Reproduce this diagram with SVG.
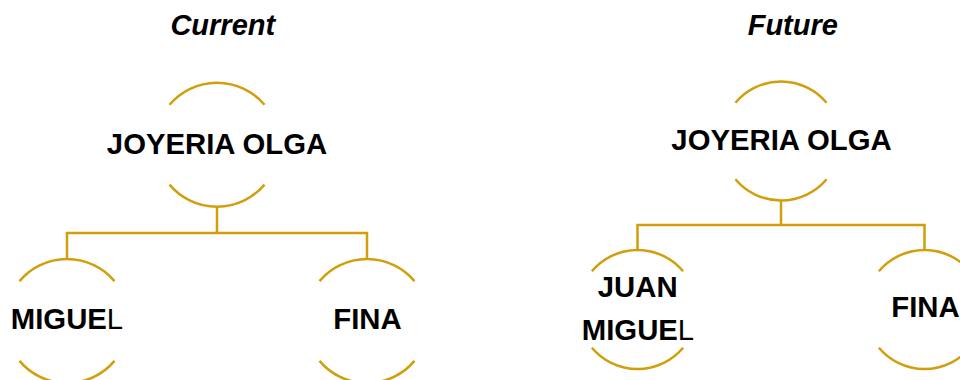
<svg xmlns="http://www.w3.org/2000/svg" width="960" height="380" viewBox="0 0 960 380">
  <style>
    .arc { fill: none; stroke: #D09F0B; stroke-width: 2.5; }
    .conn { fill: none; stroke: #D09F0B; stroke-width: 2.5; }
    .lbl { font-family: "Liberation Sans", Arial, sans-serif; font-size: 29.3px; font-weight: bold; fill: #000; text-anchor: middle; }
    .title { font-family: "Liberation Sans", Arial, sans-serif; font-size: 29px; font-weight: bold; font-style: italic; fill: #000; text-anchor: middle; }
    .reg { font-weight: normal; }
  </style>
  <rect width="960" height="380" fill="#fff"/>

  <text class="title" x="222.8" y="35.3">Current</text>
  <text class="title" x="792.8" y="35.3">Future</text>

  <g id="connectors">
    <path class="conn" d="M217,206.7 V233 M67,259 V233 H367 V259"/>
    <path class="conn" d="M781,200.5 V225 M637.5,250 V225 H924.5 V250"/>
  </g>

  <g id="current-joyeria">
    <path class="arc" d="M169.5,104.8 A62,62 0 0 1 264.5,104.8"/>
    <path class="arc" d="M169.5,184.6 A62,62 0 0 0 264.5,184.6"/>
    <text class="lbl" x="217" y="154">JOYERIA OLGA</text>
  </g>
  <g id="current-miguel">
    <path class="arc" d="M19.5,281.1 A62,62 0 0 1 114.5,281.1"/>
    <path class="arc" d="M19.5,360.9 A62,62 0 0 0 114.5,360.9"/>
    <text class="lbl" x="67" y="329.3">MIGUE<tspan class="reg">L</tspan></text>
  </g>
  <g id="current-fina">
    <path class="arc" d="M319.5,281.1 A62,62 0 0 1 414.5,281.1"/>
    <path class="arc" d="M319.5,360.9 A62,62 0 0 0 414.5,360.9"/>
    <text class="lbl" x="367.5" y="329.3">FINA</text>
  </g>

  <g id="future-joyeria">
    <path class="arc" d="M735.4,102.8 A59.5,59.5 0 0 1 826.6,102.8"/>
    <path class="arc" d="M735.4,179.2 A59.5,59.5 0 0 0 826.6,179.2"/>
    <text class="lbl" x="781.5" y="150">JOYERIA OLGA</text>
  </g>
  <g id="future-juan-miguel">
    <path class="arc" d="M591.9,271.3 A59.5,59.5 0 0 1 683.1,271.3"/>
    <path class="arc" d="M591.9,347.7 A59.5,59.5 0 0 0 683.1,347.7"/>
    <text class="lbl" x="637.7" y="296.7">JUAN</text>
    <text class="lbl" x="638" y="340">MIGUE<tspan class="reg">L</tspan></text>
  </g>
  <g id="future-fina">
    <path class="arc" d="M878.9,271.3 A59.5,59.5 0 0 1 970.1,271.3"/>
    <path class="arc" d="M878.9,347.7 A59.5,59.5 0 0 0 970.1,347.7"/>
    <text class="lbl" x="925.5" y="317.3">FINA</text>
  </g>
</svg>
